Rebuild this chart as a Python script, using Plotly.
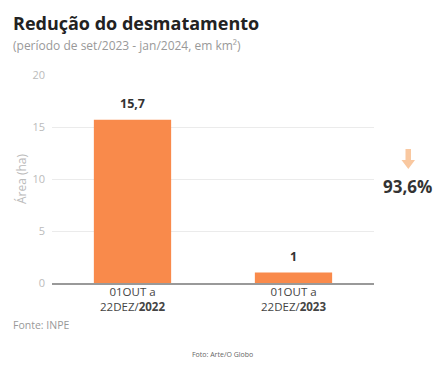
import plotly.graph_objects as go

categories = ["01OUT a<br>22DEZ/<b>2022</b>", "01OUT a<br>22DEZ/<b>2023</b>"]
values = [15.7, 1]
value_labels = ["15,7", "1"]
y_ticks = [0, 5, 10, 15, 20]
reduction_label = "93,6%"

FONT = "Open Sans"
BAR = "#F98A4B"

fig = go.Figure()
fig.add_trace(go.Bar(
    x=categories, y=values,
    marker=dict(color=BAR, line=dict(width=0)), width=0.48,
    hoverinfo="skip",
))
for c, v, t in zip(categories, values, value_labels):
    fig.add_annotation(x=c, y=v, text="<b>" + t + "</b>", showarrow=False,
                       yanchor="bottom", yshift=6,
                       font=dict(family=FONT, size=12.5, color="#333333"))

fig.update_layout(
    width=437, height=371,
    margin=dict(l=52, r=63, t=75, b=88, autoexpand=False),
    plot_bgcolor="white", paper_bgcolor="white",
    showlegend=False,
    font=dict(family=FONT),
    xaxis=dict(showgrid=False, showline=True, linecolor="#999999", linewidth=1.5,
               automargin=False, ticklabelstandoff=-3,
               tickfont=dict(family=FONT, size=11.5, color="#444444"), ticks=""),
    yaxis=dict(range=[0, 20], tickvals=y_ticks, showgrid=True, gridcolor="#EBEBEB",
               automargin=False,
               zeroline=False, tickfont=dict(family=FONT, size=11, color="#BBBBBB"),
               ticks="", ticklabelstandoff=6,
               title=dict(text="Área (ha)", font=dict(family=FONT, size=12, color="#BBBBBB"), standoff=3)),
    bargap=0.52,
)

fig.add_annotation(xref="paper", yref="paper", x=-0.127, y=1.25, xanchor="left", yanchor="middle",
                   text="<b>Redução do desmatamento</b>", showarrow=False,
                   font=dict(family=FONT, size=18, color="#222222"))
fig.add_annotation(xref="paper", yref="paper", x=-0.127, y=1.144, xanchor="left", yanchor="middle",
                   text="(período de set/2023 - jan/2024, em km²)", showarrow=False,
                   font=dict(family=FONT, size=12, color="#999999"))
fig.add_annotation(xref="paper", yref="paper", x=-0.127, y=-0.202, xanchor="left", yanchor="middle",
                   text="Fonte: INPE", showarrow=False,
                   font=dict(family=FONT, size=10.5, color="#999999"))
fig.add_annotation(xref="paper", yref="paper", x=0.531, y=-0.346, xanchor="center", yanchor="middle",
                   text="Foto: Arte/O Globo", showarrow=False,
                   font=dict(family=FONT, size=7, color="#666666"))
fig.add_annotation(xref="paper", yref="paper", x=1.105, y=0.463, xanchor="center", yanchor="middle",
                   text="<b>" + reduction_label + "</b>", showarrow=False,
                   font=dict(family=FONT, size=17, color="#333333"))

# down arrow
def px(x):
    return (x - 52) / 322
def py(y):
    return (283 - y) / 208
path = "M {a},{t} L {b},{t} L {b},{m} L {c},{m} L {x},{tip} L {d},{m} L {a2},{m} Z".format(
    a=px(405.5), b=px(411), t=py(149), m=py(160), c=px(415), x=px(408.3), tip=py(169),
    d=px(401.5), a2=px(405.5))
fig.add_shape(type="path", xref="paper", yref="paper", path=path,
              fillcolor="#F9C8A0", line=dict(width=0))

fig.write_html("out.html", config={"displayModeBar": False},
               post_script="document.body.style.margin='0';document.body.style.padding='0';")
